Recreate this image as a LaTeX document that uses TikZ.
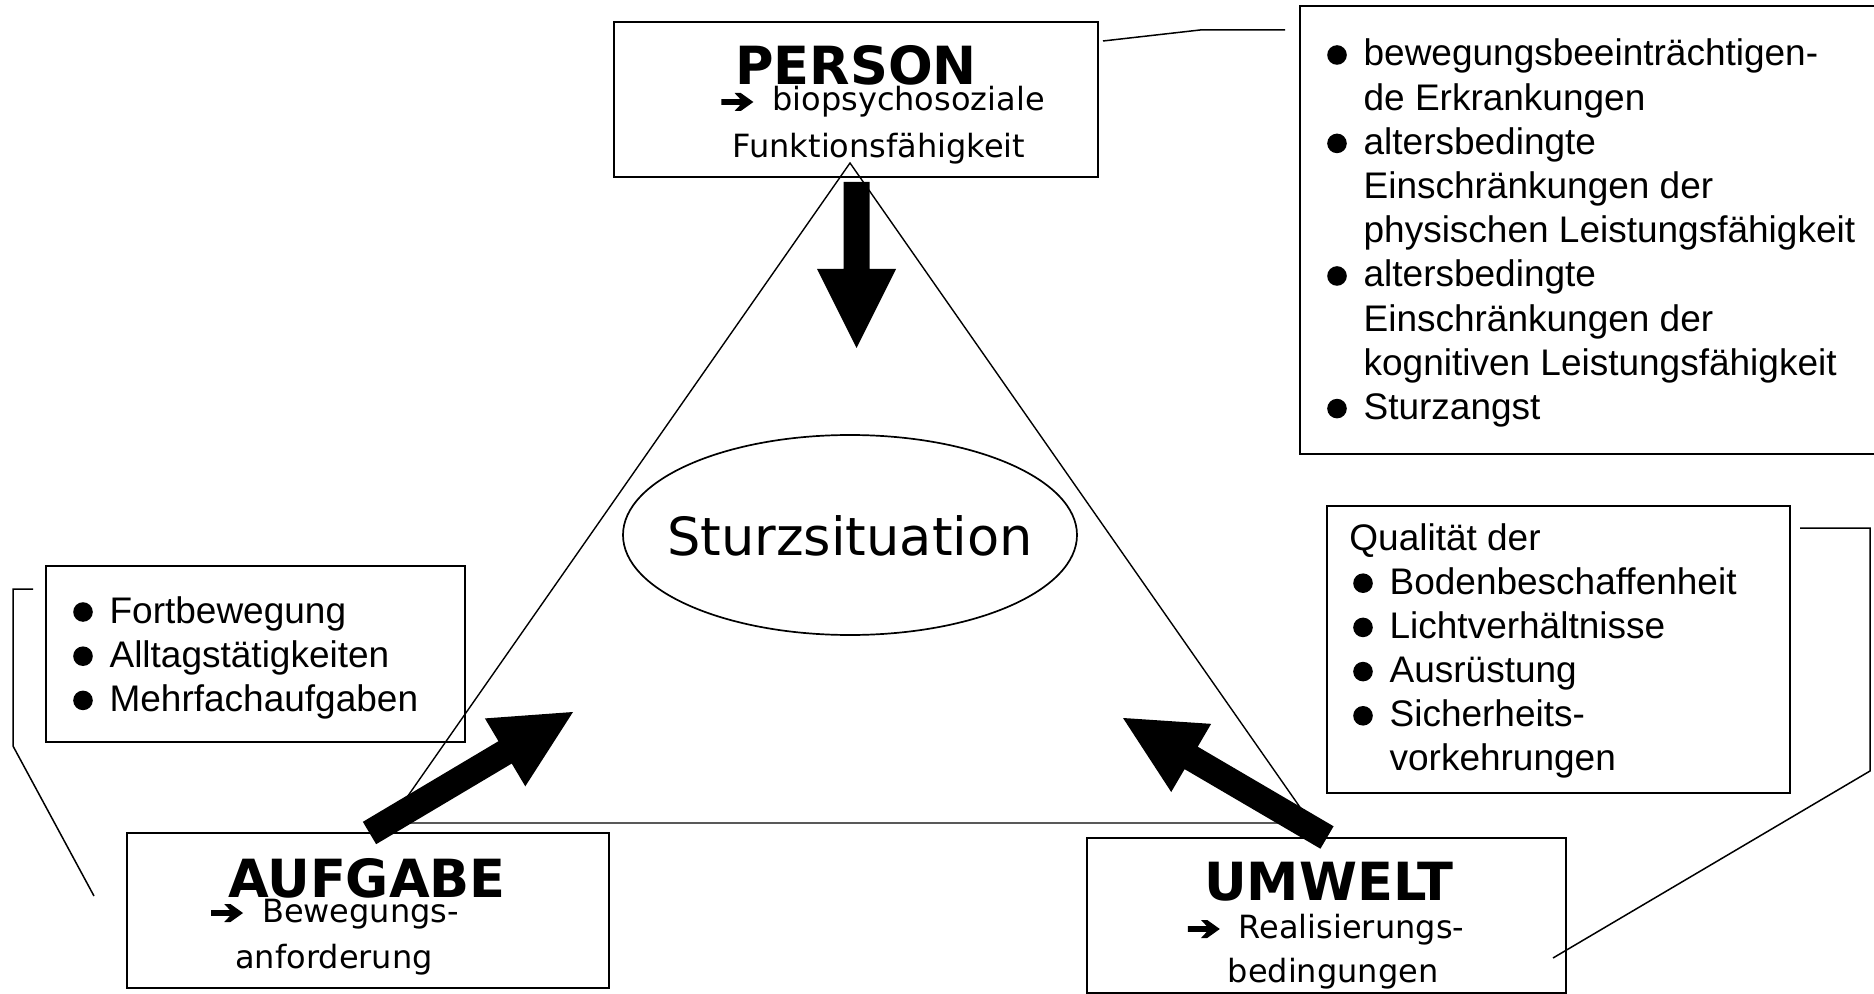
\documentclass[tikz,border=0pt]{standalone}
\usepackage{fontspec}
\setmainfont{Liberation Sans}
\newfontfamily\arialf{Liberation Sans}
\newfontfamily\verdf{DejaVu Sans}
\usetikzlibrary{calc,fit,shapes.geometric}
\newcommand\bul{\makebox[20.1pt][l]{\hspace{1.9pt}\tikz[baseline=0pt]\fill (0pt,5.5pt) circle (4.9pt);}}
\newcommand\li[1]{\hbox{\bul#1}}
\newcommand\lc[1]{\hbox{\hspace*{20.1pt}#1}}
\newcommand\harr{\tikz[baseline=0pt]\fill (0pt,3.1pt) -- (9.5pt,3.1pt) -- (6.6pt,0pt) -- (9.7pt,0pt) -- (16pt,4.5pt) -- (9.7pt,9pt) -- (6.6pt,9pt) -- (9.5pt,5.9pt) -- (0pt,5.9pt) -- cycle;\hspace{9.5pt}}
\newcommand\fatarrow[2]{%
  \coordinate (fa-h) at ($(#2)!39.5pt!(#1)$);
  \fill ($(#1)!6.5pt!90:(#2)$) -- ($(fa-h)!6.5pt!90:(#2)$) -- ($(fa-h)!19.75pt!90:(#2)$)
     -- (#2) -- ($(fa-h)!19.75pt!-90:(#2)$) -- ($(fa-h)!6.5pt!-90:(#2)$)
     -- ($(#1)!6.5pt!-90:(#2)$) -- cycle;}
\tikzset{
  box/.style={draw, line width=1pt, inner sep=0pt},
  title/.style={font=\verdf\bfseries\fontsize{26.3}{30}\selectfont, anchor=base, inner sep=0pt},
  sub/.style={font=\verdf\fontsize{16}{19}\selectfont, anchor=base, inner sep=0pt},
  blist/.style={font=\arialf\fontsize{18.5}{22.1}\selectfont, anchor=base west, inner sep=0pt},
  tri/.style={line width=0.7pt, line join=miter},
  callout/.style={line width=0.75pt},
}
\begin{document}
\begin{tikzpicture}[x=0.5pt,y=-0.5pt]
\useasboundingbox (0,0) rectangle (1874,994);
\fill[white] (0,0) rectangle (1874,994);

% main boxes
\node[box, fit={(614,22) (1098,177)}] (person) {};
\node[title] (personT) at (856,85) {PERSON};
\node[sub] (personA) at (883,111) {\harr biopsychosoziale};
\node[sub] (personB) at (879,158) {Funktionsfähigkeit};

\node[box, fit={(127,833) (609,988)}] (aufgabe) {};
\node[title] (aufgabeT) at (367,897) {AUFGABE};
\node[sub] (aufgabeA) at (335,922) {\harr Bewegungs-};
\node[sub] (aufgabeB) at (334,968) {anforderung};

\node[box, fit={(1087,838) (1566,993)}] (umwelt) {};
\node[title] (umweltT) at (1329,900) {UMWELT};
\node[sub] (umweltA) at (1326,938) {\harr Realisierungs-};
\node[sub] (umweltB) at (1333,982) {bedingungen};

% centre
\node[draw, ellipse, line width=0.85pt, minimum width=227pt, minimum height=100pt, inner sep=0pt] (sturz) at (850,535) {};
\node[font=\verdf\fontsize{26.3}{30}\selectfont, anchor=base, inner sep=0pt] (sturzT) at (850,555) {Sturzsituation};

% list boxes
\draw[line width=1pt] (1874,6) -- (1300,6) -- (1300,454) -- (1874,454);
\node[blist] (plist) at (1323,66) {\vtop{%
  \li{bewegungsbeeinträchtigen-}
  \lc{de Erkrankungen}
  \li{altersbedingte}
  \lc{Einschränkungen der}
  \lc{physischen Leistungsfähigkeit}
  \li{altersbedingte}
  \lc{Einschränkungen der}
  \lc{kognitiven Leistungsfähigkeit}
  \li{Sturzangst}}};

\node[box, fit={(46,566) (465,742)}] (abox) {};
\node[blist] (alist) at (69,623) {\vtop{%
  \li{Fortbewegung}
  \li{Alltagstätigkeiten}
  \li{Mehrfachaufgaben}}};

\node[box, fit={(1327,506) (1790,793)}] (ubox) {};
\node[blist] (ulist) at (1349,550) {\vtop{%
  \hbox{Qualität der}
  \li{Bodenbeschaffenheit}
  \li{Lichtverhältnisse}
  \li{Ausrüstung}
  \li{Sicherheits-}
  \lc{vorkehrungen}}};

% callout lines
\coordinate (c1a) at (1103,41);
\coordinate (c1b) at (1200,30);
\coordinate (c1c) at (1285,30);
\draw[callout] (c1a) -- (c1b) -- (c1c);

\coordinate (c2a) at (33,589);
\coordinate (c2b) at (13,589);
\coordinate (c2c) at (13,746);
\coordinate (c2d) at (94,896);
\draw[callout] (c2a) -- (c2b) -- (c2c) -- (c2d);

\coordinate (c3a) at (1800,528);
\coordinate (c3b) at (1870,528);
\coordinate (c3c) at (1870,771);
\coordinate (c3d) at (1553,958);
\draw[callout] (c3a) -- (c3b) -- (c3c) -- (c3d);

% triangle
\coordinate (tA) at (850,163);
\coordinate (tB) at (389,823);
\coordinate (tC) at (1311,823);
\draw[tri] (tA) -- (tB) -- (tC) -- cycle;

% fat arrows
\coordinate (dTail) at (856.5,182);
\coordinate (dTip) at (856.5,348);
\fatarrow{dTail}{dTip}
\coordinate (lTail) at (369.5,833);
\coordinate (lTip) at (573,712);
\fatarrow{lTail}{lTip}
\coordinate (rTail) at (1327,837.5);
\coordinate (rTip) at (1123,718);
\fatarrow{rTail}{rTip}
\end{tikzpicture}
\end{document}
